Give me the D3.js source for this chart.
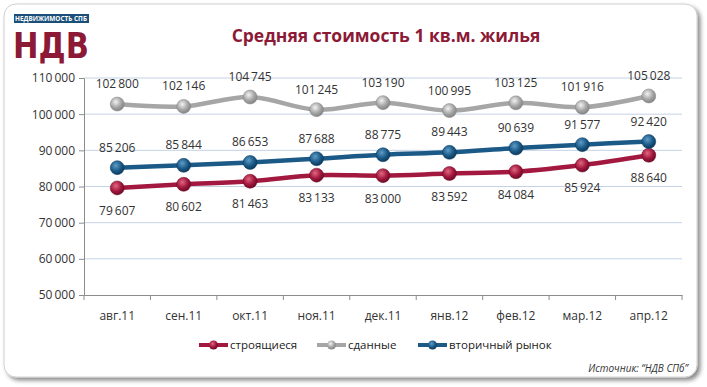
<!DOCTYPE html>
<html>
<head>
<meta charset="utf-8">
<script src="https://cdn.jsdelivr.net/npm/d3@7"></script>
<style>
  body { margin: 0; background: #fff; }
  text { font-family: "Open Sans", "Noto Sans", sans-serif; }
</style>
</head>
<body>
<div id="chart"></div>
<script>
// months
var months = ["авг.11", "сен.11", "окт.11", "ноя.11", "дек.11", "янв.12", "фев.12", "мар.12", "апр.12"];
// series values, руб. за кв.м.
var stroy = [79607, 80602, 81463, 83133, 83000, 83592, 84084, 85924, 88640];
var sdan = [102800, 102146, 104745, 101245, 103190, 100995, 103125, 101916, 105028];
var vtor = [85206, 85844, 86653, 87688, 88775, 89443, 90639, 91577, 92420];
var yTicks = [50000, 60000, 70000, 80000, 90000, 100000, 110000];

var series = [
    { name: "строящиеся", values: stroy, color: "#a3183f", light: "#e0687f", dark: "#6e0b26", labelPos: "below" },
    { name: "сданные", values: sdan, color: "#a6a6a6", light: "#f2f2f2", dark: "#858585", labelPos: "above" },
    { name: "вторичный рынок", values: vtor, color: "#1b5a87", light: "#5f9cc8", dark: "#0c3a5c", labelPos: "above" }
];

var W = 707, H = 387;
var margin = { top: 78, right: 25, bottom: 92, left: 84 },
    width = 682 - margin.left,
    height = 295 - margin.top;

var svg = d3.select("#chart").append("svg")
    .attr("width", W)
    .attr("height", H);

var defs = svg.append("defs");

// shadow for the frame
var f = defs.append("filter").attr("id", "shadow")
    .attr("x", "-5%").attr("y", "-5%").attr("width", "110%").attr("height", "115%");
f.append("feDropShadow").attr("dx", 3).attr("dy", 3).attr("stdDeviation", 2)
    .attr("flood-color", "#000").attr("flood-opacity", 0.45);

// sphere gradients for markers
series.forEach(function(s, i) {
    var g = defs.append("radialGradient").attr("id", "ball" + i)
        .attr("cx", "40%").attr("cy", "35%").attr("r", "65%");
    g.append("stop").attr("offset", "0%").attr("stop-color", s.light);
    g.append("stop").attr("offset", "60%").attr("stop-color", s.color);
    g.append("stop").attr("offset", "100%").attr("stop-color", s.dark);
});

// frame
svg.append("rect")
    .attr("x", 4).attr("y", 4)
    .attr("width", 693).attr("height", 373)
    .attr("rx", 12)
    .attr("fill", "#fff")
    .attr("stroke", "#d0d0d0")
    .attr("filter", "url(#shadow)");

// logo
svg.append("rect")
    .attr("x", 14).attr("y", 14).attr("width", 75).attr("height", 9)
    .attr("fill", "#1b4f7a");
svg.append("text")
    .attr("x", 51).attr("y", 21)
    .attr("text-anchor", "middle")
    .style("font-size", "6.5px")
    .style("font-weight", "bold")
    .attr("fill", "#fff")
    .attr("textLength", 72)
    .attr("lengthAdjust", "spacingAndGlyphs")
    .text("НЕДВИЖИМОСТЬ СПБ");
svg.append("text")
    .attr("x", 13).attr("y", 58)
    .style("font-size", "35px")
    .style("font-weight", "900")
    .style("font-family", "'DejaVu Sans', sans-serif")
    .attr("fill", "#8c1a36")
    .attr("textLength", 76)
    .attr("lengthAdjust", "spacingAndGlyphs")
    .text("НДВ");

// title
svg.append("text")
    .attr("x", 386).attr("y", 42)
    .attr("text-anchor", "middle")
    .style("font-size", "17.5px")
    .style("font-weight", "bold")
    .attr("fill", "#8c1a36")
    .text("Средняя стоимость 1 кв.м. жилья");

var g = svg.append("g")
    .attr("transform", "translate(" + margin.left + "," + margin.top + ")");

var x = d3.scaleBand().domain(months).range([0, width]);
var y = d3.scaleLinear().domain([50000, 110000]).range([height, 0]);

var fmt = function(v) { return d3.format(",")(v).replace(/,/g, "\u2009"); };

// grid
g.selectAll(".grid")
    .data(yTicks.filter(function(d) { return d > 50000; }))
    .enter().append("line")
    .attr("x1", 0).attr("x2", width)
    .attr("y1", function(d) { return y(d); })
    .attr("y2", function(d) { return y(d); })
    .attr("stroke", "#c5d2e6")
    .attr("stroke-width", 1);

// y axis
var yAxis = g.append("g")
    .call(d3.axisLeft(y).tickValues(yTicks).tickSize(5).tickPadding(4).tickFormat(fmt));
yAxis.select(".domain").attr("stroke", "#8c8c8c");
yAxis.selectAll(".tick line").attr("stroke", "#8c8c8c");
yAxis.selectAll("text").style("font-size", "12px").attr("fill", "#333")
    .style("font-family", "'Open Sans', sans-serif");

// x axis
var xAxis = g.append("g")
    .attr("transform", "translate(0," + height + ")")
    .call(d3.axisBottom(x).tickSize(0).tickPadding(16));
xAxis.select(".domain").attr("stroke", "#8c8c8c");
xAxis.selectAll("text").style("font-size", "12px").attr("fill", "#333")
    .style("font-family", "'Open Sans', sans-serif");
// boundary ticks between categories
xAxis.selectAll(".bnd")
    .data(d3.range(months.length + 1))
    .enter().append("line")
    .attr("x1", function(i) { return i * x.bandwidth(); })
    .attr("x2", function(i) { return i * x.bandwidth(); })
    .attr("y1", 0).attr("y2", 5)
    .attr("stroke", "#8c8c8c");

var cx = function(d, i) { return x(months[i]) + x.bandwidth() / 2; };

var line = d3.line()
    .x(function(d, i) { return cx(d, i); })
    .y(function(d) { return y(d); })
    .curve(d3.curveCatmullRom.alpha(0.5));

series.forEach(function(s, si) {
    g.append("path")
        .datum(s.values)
        .attr("fill", "none")
        .attr("stroke", s.color)
        .attr("stroke-width", 4.5)
        .attr("stroke-linejoin", "round")
        .attr("d", line);

    g.selectAll(".pt" + si)
        .data(s.values)
        .enter().append("circle")
        .attr("cx", cx)
        .attr("cy", function(d) { return y(d); })
        .attr("r", 7)
        .attr("fill", "url(#ball" + si + ")")
        .attr("stroke", s.dark)
        .attr("stroke-width", 0.5);

    g.selectAll(".lbl" + si)
        .data(s.values)
        .enter().append("text")
        .attr("x", cx)
        .attr("y", function(d) {
            return s.labelPos == "above" ? y(d) - 16 : y(d) + 27;
        })
        .attr("text-anchor", "middle")
        .style("font-size", "12px")
        .attr("fill", "#333")
        .text(fmt);
});

// legend
var legendX = [199, 317, 418];
var leg = svg.selectAll(".leg")
    .data(series)
    .enter().append("g")
    .attr("transform", function(d, i) { return "translate(" + legendX[i] + ",345)"; });
leg.append("line")
    .attr("x1", 0).attr("x2", 29)
    .attr("stroke", function(d) { return d.color; })
    .attr("stroke-width", 4);
leg.append("circle")
    .attr("cx", 14.5).attr("r", 4.5)
    .attr("fill", function(d, i) { return "url(#ball" + i + ")"; });
leg.append("text")
    .attr("x", 31).attr("y", 4)
    .style("font-size", "11.5px")
    .attr("fill", "#222")
    .text(function(d) { return d.name; });

// source
svg.append("text")
    .attr("x", 688).attr("y", 372)
    .attr("text-anchor", "end")
    .style("font-size", "10px")
    .style("font-style", "italic")
    .attr("fill", "#333")
    .text("Источник: “НДВ СПб”");
</script>
</body>
</html>
